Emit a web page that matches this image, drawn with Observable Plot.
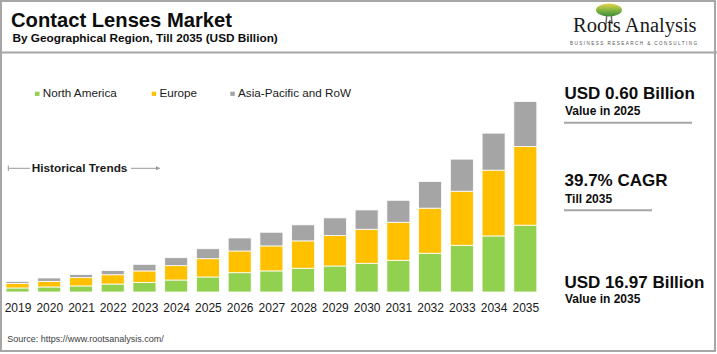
<!DOCTYPE html>
<html>
<head>
<meta charset="utf-8">
<script src="https://cdn.jsdelivr.net/npm/d3@7"></script>
<script src="https://cdn.jsdelivr.net/npm/@observablehq/plot@0.6"></script>
<style>
  html, body { margin: 0; padding: 0; background: #fff; }
  #wrap { position: relative; width: 717px; height: 354px; overflow: hidden; font-family: Arial, "Liberation Sans", sans-serif; }
  #chart { position: absolute; left: -10px; top: 50px; }
  #overlay { position: absolute; left: 0; top: 0; pointer-events: none; }
</style>
</head>
<body>
<div id="wrap">
  <div id="chart"></div>
  <svg id="overlay" width="717" height="354" font-family="Arial, 'Liberation Sans', sans-serif"></svg>
</div>
<script>
// ---- data (USD Billion) ----
const years = ["2019","2020","2021","2022","2023","2024","2025","2026","2027","2028","2029","2030","2031","2032","2033","2034","2035"];
const northAmerica = [0.36,0.45,0.54,0.71,0.86,1.07,1.34,1.72,1.88,2.12,2.32,2.56,2.83,3.46,4.17,5.00,5.96];
const europe       = [0.41,0.50,0.74,0.83,1.02,1.28,1.63,1.94,2.23,2.44,2.71,3.04,3.39,4.02,4.82,5.87,7.02];
const asiaPacific  = [0.18,0.30,0.29,0.38,0.59,0.71,0.89,1.16,1.22,1.43,1.58,1.72,1.96,2.38,2.86,3.30,4.02];
const regions = ["North America","Europe","Asia-Pacific and RoW"];
const regionColors = ["#92d050","#ffc000","#a5a5a5"];

const table = [];
years.forEach((y, i) => {
  table.push({year: y, region: regions[0], value: northAmerica[i]});
  table.push({year: y, region: regions[1], value: europe[i]});
  table.push({year: y, region: regions[2], value: asiaPacific[i]});
});

const chart = Plot.plot({
  width: 560,
  height: 280,
  marginTop: 51.4,
  marginBottom: 38,
  marginLeft: 7.26,
  marginRight: 4.44,
  style: {fontFamily: "Arial, 'Liberation Sans', sans-serif", fontSize: "12px", color: "#1a1a1a", background: "transparent"},
  x: {domain: years, padding: 0.275, round: false, label: null, tickSize: 0, tickPadding: 11},
  y: {domain: [0, 17], axis: null},
  color: {domain: regions, range: regionColors},
  marks: [
    Plot.barY(table, {x: "year", y: "value", fill: "region", stroke: "white", strokeWidth: 0.8})
  ]
});
document.getElementById("chart").appendChild(chart);

// ---- decorations / annotations ----
const ov = d3.select("#overlay");
const gray = "#a6a6a6";
// borders
ov.append("rect").attr("x", 1).attr("y", 1).attr("width", 714).attr("height", 350)
  .attr("fill", "none").attr("stroke", gray).attr("stroke-width", 2);
ov.append("line").attr("x1", 0).attr("x2", 717).attr("y1", 52.5).attr("y2", 52.5)
  .attr("stroke", gray).attr("stroke-width", 2);

// title
ov.append("text").attr("x", 11).attr("y", 27.3).attr("font-size", 20.2).attr("font-weight", "bold")
  .attr("fill", "#0d0d0d").text("Contact Lenses Market");
ov.append("text").attr("x", 12.5).attr("y", 41.7).attr("font-size", 11.8).attr("font-weight", "bold")
  .attr("fill", "#0d0d0d").text("By Geographical Region, Till 2035 (USD Billion)");

// logo
const defs = ov.append("defs");
const grad = defs.append("linearGradient").attr("id", "tree").attr("x1", 0).attr("y1", 0).attr("x2", 0).attr("y2", 1);
grad.append("stop").attr("offset", "0%").attr("stop-color", "#e8d24a");
grad.append("stop").attr("offset", "55%").attr("stop-color", "#7cb342");
grad.append("stop").attr("offset", "100%").attr("stop-color", "#3f8a3a");
ov.append("path").attr("d", "M607,12 L606,24 M611,12 L612,24").attr("stroke", "#6b6b6b").attr("stroke-width", 1.5).attr("fill", "none");
ov.append("ellipse").attr("cx", 609).attr("cy", 10).attr("rx", 13).attr("ry", 6.5).attr("fill", "url(#tree)");
ov.append("text").attr("x", 573).attr("y", 32).attr("font-family", "'Liberation Serif', 'Times New Roman', serif")
  .attr("font-size", 20.5).attr("fill", "#1a1a1a").text("Roots Analysis");
ov.append("text").attr("x", 570).attr("y", 45).attr("font-size", 4.6).attr("fill", "#555")
  .attr("textLength", 127).attr("lengthAdjust", "spacing").text("BUSINESS RESEARCH & CONSULTING");

// legend
const legendX = [35, 151.7, 230.3];
regions.forEach((r, i) => {
  ov.append("rect").attr("x", legendX[i]).attr("y", 91.7).attr("width", 4.5).attr("height", 4.2).attr("fill", regionColors[i]);
  ov.append("text").attr("x", legendX[i] + 7.7).attr("y", 97.3).attr("font-size", 11.7).attr("fill", "#1a1a1a").text(r);
});

// historical trends
ov.append("line").attr("x1", 8.3).attr("x2", 8.3).attr("y1", 165.5).attr("y2", 171).attr("stroke", "#9a9a9a").attr("stroke-width", 1);
ov.append("line").attr("x1", 8.3).attr("x2", 30).attr("y1", 168.3).attr("y2", 168.3).attr("stroke", "#9a9a9a").attr("stroke-width", 1);
ov.append("text").attr("x", 31.7).attr("y", 172).attr("font-size", 11.8).attr("font-weight", "bold").attr("fill", "#1a1a1a").text("Historical Trends");
ov.append("line").attr("x1", 131).attr("x2", 158).attr("y1", 168.3).attr("y2", 168.3).attr("stroke", "#9a9a9a").attr("stroke-width", 1);
ov.append("path").attr("d", "M156,166.3 L160.5,168.3 L156,170.3 Z").attr("fill", "#9a9a9a");

// source
ov.append("text").attr("x", 7.3).attr("y", 341.7).attr("font-size", 9).attr("fill", "#404040").text("Source: https://www.rootsanalysis.com/");

// right panel
const big = [["USD 0.60 Billion", 99], ["39.7% CAGR", 186], ["USD 16.97 Billion", 288.3]];
const small = [["Value in 2025", 115], ["Till 2035", 202.7], ["Value in 2035", 303.3]];
big.forEach(([t, y]) => ov.append("text").attr("x", 564.5).attr("y", y).attr("font-size", 17).attr("font-weight", "bold").attr("fill", "#0d0d0d").text(t));
small.forEach(([t, y]) => ov.append("text").attr("x", 565).attr("y", y).attr("font-size", 12).attr("font-weight", "bold").attr("fill", "#0d0d0d").text(t));
ov.append("line").attr("x1", 564).attr("x2", 692).attr("y1", 122.7).attr("y2", 122.7).attr("stroke", gray).attr("stroke-width", 2);
ov.append("line").attr("x1", 564).attr("x2", 652).attr("y1", 210.3).attr("y2", 210.3).attr("stroke", gray).attr("stroke-width", 2);
</script>
</body>
</html>
